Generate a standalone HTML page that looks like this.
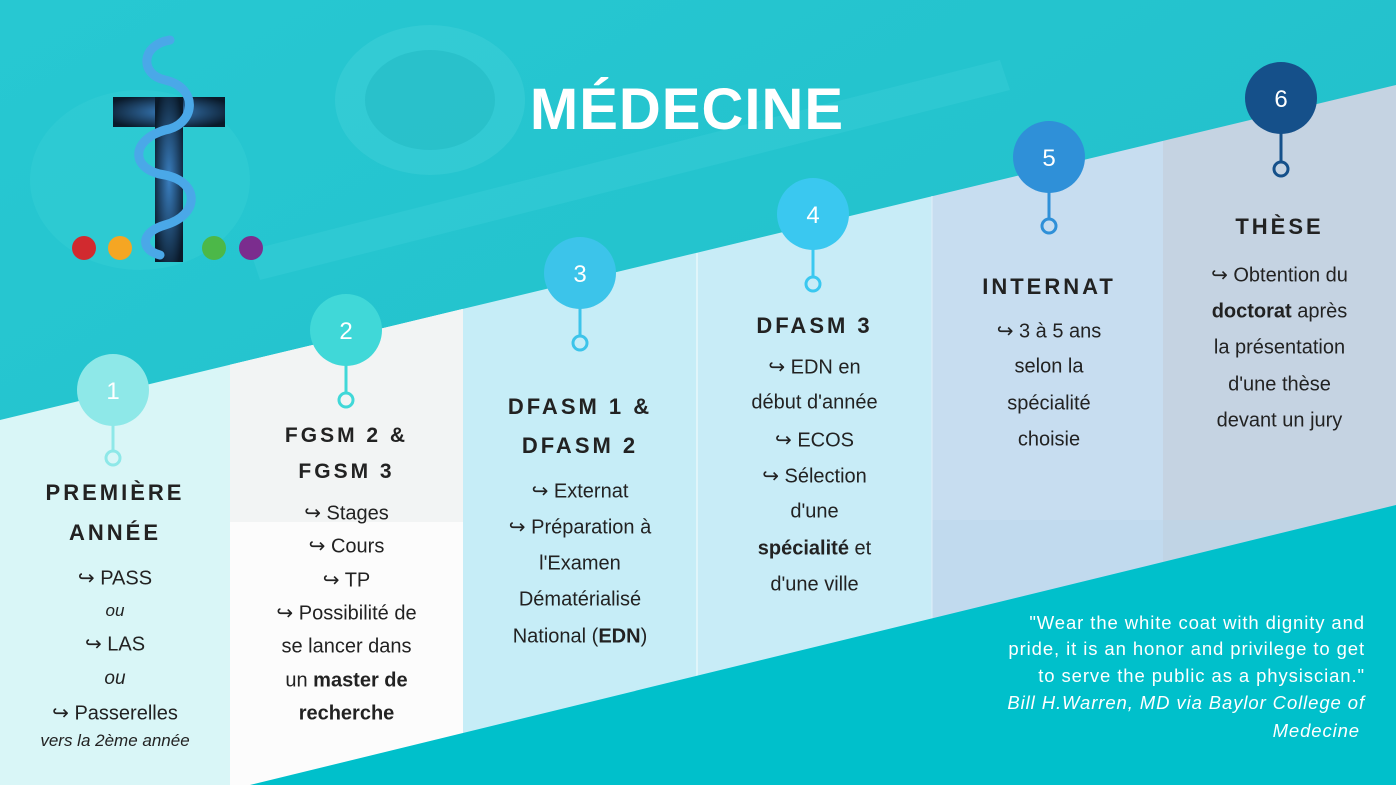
<!DOCTYPE html>
<html><head><meta charset="utf-8"><style>
html,body{margin:0;padding:0}
body{width:1396px;height:785px;position:relative;overflow:hidden;font-family:"Liberation Sans",sans-serif;background:#26c6d0}
svg{position:absolute;left:0;top:0}
.c{position:absolute;text-align:center;color:#222}
.l{position:absolute;left:0;right:0;text-align:center;white-space:nowrap;transform:translateY(-50%)}
.h{font-weight:bold;font-size:22px;letter-spacing:3px}
.b{font-size:20px}
.n{font-family:"Liberation Sans Narrow","Liberation Sans",sans-serif;font-stretch:condensed}
.i{font-style:italic;font-size:17px}
.q{position:absolute;right:31px;text-align:right;color:#fff;font-size:18.5px;letter-spacing:0.9px;white-space:nowrap;transform:translateY(-50%)}
</style></head><body>
<svg width="1396" height="785" viewBox="0 0 1396 785">
<defs><linearGradient id="g" x1="0" y1="0" x2="1" y2="1"><stop offset="0" stop-color="#27c8d2"/><stop offset="1" stop-color="#20bdc8"/></linearGradient>
<radialGradient id="tg" cx="0.5" cy="0.5" r="0.6"><stop offset="0" stop-color="#3a7fc0"/><stop offset="1" stop-color="#0a1a2a"/></radialGradient></defs>
<rect width="1396" height="785" fill="url(#g)"/>
<ellipse cx="430" cy="100" rx="95" ry="75" fill="#3fd0d8" opacity="0.5"/>
<ellipse cx="430" cy="100" rx="65" ry="50" fill="#20b8c2" opacity="0.5"/>
<path d="M250 250 L1000 60 L1010 90 L260 280Z" fill="#40d2da" opacity="0.35"/>
<ellipse cx="140" cy="180" rx="110" ry="90" fill="#3cd0d8" opacity="0.35"/>
<polygon points="0,420 230,364.8 230,785 0,785" fill="#d9f6f7"/>
<polygon points="230,364.8 463,308.9 463,785 230,785" fill="#fcfcfc"/>
<polygon points="230,364.8 463,308.9 463,522 230,522" fill="#f2f4f4"/>
<polygon points="463,308.9 697,252.7 697,785 463,785" fill="#c6edf7"/>
<polygon points="697,252.7 932,196.3 932,785 697,785" fill="#c8ecf7"/>
<polygon points="932,196.3 1163,140.9 1163,785 932,785" fill="#c7ddf0"/>
<polygon points="1163,140.9 1396,85 1396,785 1163,785" fill="#c5d3e2"/>
<rect x="932" y="520" width="464" height="265" fill="#b8d6ec" opacity="0.4"/>
<line x1="697" y1="253" x2="697" y2="785" stroke="#e8f8fc" stroke-width="1.5"/>
<line x1="932" y1="196" x2="932" y2="785" stroke="#e0eef8" stroke-width="1"/>
<polygon points="250,785 1396,505 1396,785" fill="#00c0cb"/>
<rect x="113" y="97" width="112" height="30" fill="url(#tg)"/>
<rect x="155" y="97" width="28" height="165" fill="url(#tg)"/>
<path d="M170 40 C140 45 140 75 165 80 C200 88 195 125 165 130 C130 140 130 170 165 175 C200 182 200 215 165 225 C140 232 140 250 160 255" fill="none" stroke="#4aa8e8" stroke-width="9" stroke-linecap="round"/>
<circle cx="84" cy="248" r="12" fill="#d12a2f"/>
<circle cx="120" cy="248" r="12" fill="#f5a623"/>
<circle cx="214" cy="248" r="12" fill="#4cb848"/>
<circle cx="251" cy="248" r="12" fill="#7b2d8e"/>
<g stroke-width="3" fill="none">
<line x1="113" y1="420" x2="113" y2="452" stroke="#8ee8e8"/><circle cx="113" cy="458" r="7" stroke="#8ee8e8"/>
<line x1="346" y1="360" x2="346" y2="394" stroke="#40d8d8"/><circle cx="346" cy="400" r="7" stroke="#40d8d8"/>
<line x1="580" y1="303" x2="580" y2="337" stroke="#3cc4ea"/><circle cx="580" cy="343" r="7" stroke="#3cc4ea"/>
<line x1="813" y1="244" x2="813" y2="278" stroke="#3ac8f0"/><circle cx="813" cy="284" r="7" stroke="#3ac8f0"/>
<line x1="1049" y1="187" x2="1049" y2="220" stroke="#2f90d8"/><circle cx="1049" cy="226" r="7" stroke="#2f90d8"/>
<line x1="1281" y1="128" x2="1281" y2="163" stroke="#15508a"/><circle cx="1281" cy="169" r="7" stroke="#15508a"/>
</g>
<circle cx="113" cy="390" r="36" fill="#8ee8e8"/>
<circle cx="346" cy="330" r="36" fill="#40d8d8"/>
<circle cx="580" cy="273" r="36" fill="#3cc4ea"/>
<circle cx="813" cy="214" r="36" fill="#3ac8f0"/>
<circle cx="1049" cy="157" r="36" fill="#2f90d8"/>
<circle cx="1281" cy="98" r="36" fill="#15508a"/>
<g fill="#fff" font-family="Liberation Sans,sans-serif" font-size="24" text-anchor="middle">
<text x="113" y="399">1</text><text x="346" y="339">2</text><text x="580" y="282">3</text>
<text x="813" y="223">4</text><text x="1049" y="166">5</text><text x="1281" y="107">6</text></g>
<text x="687" y="129" fill="#fff" font-family="Liberation Sans,sans-serif" font-weight="bold" font-size="58" text-anchor="middle" letter-spacing="1">MÉDECINE</text>
</svg>

<div class="c" style="left:0;width:230px;top:0;height:785px">
<div class="l h" style="top:493px">PREMIÈRE</div>
<div class="l h" style="top:533px">ANNÉE</div>
<div class="l b n" style="top:578px">↪ PASS</div>
<div class="l i n" style="top:611px">ou</div>
<div class="l b n" style="top:644px">↪ LAS</div>
<div class="l i n" style="top:679px;font-size:19px">ou</div>
<div class="l b n" style="top:713px">↪ Passerelles</div>
<div class="l i n" style="top:741px">vers la 2ème année</div>
</div>
<div class="c n" style="left:230px;width:233px;top:0;height:785px">
<div class="l h" style="top:436px;font-family:'Liberation Sans',sans-serif;font-stretch:normal;font-size:21px">FGSM 2 &amp;</div>
<div class="l h" style="top:472px;font-family:'Liberation Sans',sans-serif;font-stretch:normal;font-size:21px">FGSM 3</div>
<div class="l b" style="top:513px">↪ Stages</div>
<div class="l b" style="top:546px">↪ Cours</div>
<div class="l b" style="top:580px">↪ TP</div>
<div class="l b" style="top:613px">↪ Possibilité de</div>
<div class="l b" style="top:647px">se lancer dans</div>
<div class="l b" style="top:681px">un <b>master de</b></div>
<div class="l b" style="top:714px"><b>recherche</b></div>
</div>
<div class="c" style="left:463px;width:234px;top:0;height:785px">
<div class="l h" style="top:407px">DFASM 1 &amp;</div>
<div class="l h" style="top:446px">DFASM 2</div>
<div class="l b n" style="top:491px">↪ Externat</div>
<div class="l b n" style="top:527px">↪ Préparation à</div>
<div class="l b n" style="top:564px">l'Examen</div>
<div class="l b n" style="top:600px">Dématérialisé</div>
<div class="l b n" style="top:637px">National (<b>EDN</b>)</div>
</div>
<div class="c" style="left:697px;width:235px;top:0;height:785px">
<div class="l h" style="top:326px">DFASM 3</div>
<div class="l b" style="top:367px">↪ EDN en</div>
<div class="l b" style="top:403px">début d'année</div>
<div class="l b" style="top:440px">↪ ECOS</div>
<div class="l b" style="top:476px">↪ Sélection</div>
<div class="l b" style="top:512px">d'une</div>
<div class="l b" style="top:549px"><b>spécialité</b> et</div>
<div class="l b" style="top:585px">d'une ville</div>
</div>
<div class="c" style="left:932px;width:234px;top:0;height:785px">
<div class="l h" style="top:287px">INTERNAT</div>
<div class="l b" style="top:331px">↪ 3 à 5 ans</div>
<div class="l b" style="top:367px">selon la</div>
<div class="l b" style="top:404px">spécialité</div>
<div class="l b" style="top:440px">choisie</div>
</div>
<div class="c" style="left:1163px;width:233px;top:0;height:785px">
<div class="l h" style="top:227px">THÈSE</div>
<div class="l b" style="top:275px">↪ Obtention du</div>
<div class="l b" style="top:312px"><b>doctorat</b> après</div>
<div class="l b" style="top:348px">la présentation</div>
<div class="l b" style="top:385px">d'une thèse</div>
<div class="l b" style="top:421px">devant un jury</div>
</div>
<div class="q" style="top:623px">"Wear the white coat with dignity and</div>
<div class="q" style="top:649px">pride, it is an honor and privilege to get</div>
<div class="q" style="top:676px">to serve the public as a physiscian."</div>
<div class="q" style="top:703px;font-style:italic">Bill H.Warren, MD via Baylor College of</div>
<div class="q" style="top:731px;font-style:italic;right:36px">Medecine</div>
</body></html>
